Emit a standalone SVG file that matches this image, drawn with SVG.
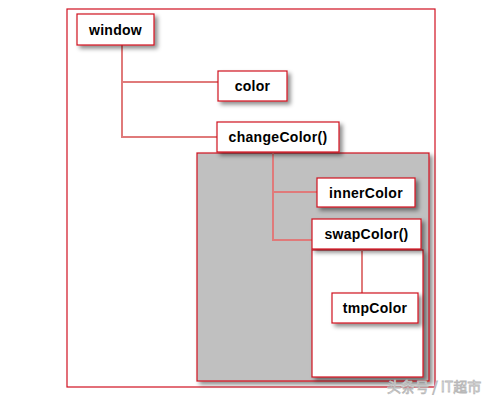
<svg xmlns="http://www.w3.org/2000/svg" width="499" height="400" viewBox="0 0 499 400">
<defs>
<filter id="sh" x="-20%" y="-20%" width="150%" height="160%">
<feDropShadow dx="3" dy="3" stdDeviation="2" flood-color="#000" flood-opacity="0.45"/>
</filter>
<style>
.box{fill:#fff;stroke:#d01020;stroke-width:1.2;filter:url(#sh)}
.area{stroke:#d01020;stroke-width:1.2;filter:url(#sh)}
.lbl{font-family:"Liberation Sans",Arial,sans-serif;font-weight:bold;font-size:14px;letter-spacing:0.3px;fill:#000;text-anchor:middle}
.ln{fill:none;stroke:#e07a7a;stroke-width:2}
</style>
</defs>
<rect width="499" height="400" fill="#fff"/>
<rect x="67" y="9" width="368" height="378" fill="#fff" stroke="#d01020" stroke-width="1.2"/>
<rect class="area" x="197" y="153" width="232" height="228" fill="#c0c0c0"/>
<rect class="area" x="312" y="250" width="111" height="127" fill="#fff"/>
<g id="connectors">
<path class="ln" d="M122,45 V137 H217 M122,82 H218"/>
<path class="ln" d="M273,152 V240 H312 M273,192 H317"/>
<path class="ln" d="M362,250 V293"/>
</g>
<g id="window"><rect class="box" x="77" y="14" width="77" height="31"/><text class="lbl" x="115.5" y="34.5">window</text></g>
<g id="color"><rect class="box" x="218" y="71" width="69" height="30"/><text class="lbl" x="252.5" y="91">color</text></g>
<g id="changeColor"><rect class="box" x="217" y="122" width="122" height="30"/><text class="lbl" x="278" y="142">changeColor()</text></g>
<g id="innerColor"><rect class="box" x="317" y="178" width="98" height="29"/><text class="lbl" x="366" y="197.5">innerColor</text></g>
<g id="swapColor"><rect class="box" x="312" y="219" width="109" height="30"/><text class="lbl" x="366.5" y="239">swapColor()</text></g>
<g id="tmpColor"><rect class="box" x="332" y="293" width="86" height="30"/><text class="lbl" x="375" y="313">tmpColor</text></g>
<text x="387" y="392" font-family="'Noto Sans CJK SC','Liberation Sans',sans-serif" font-size="14" fill="#fff" stroke="#b8b8b8" stroke-width="0.8">头条号 / IT超市</text>
</svg>
